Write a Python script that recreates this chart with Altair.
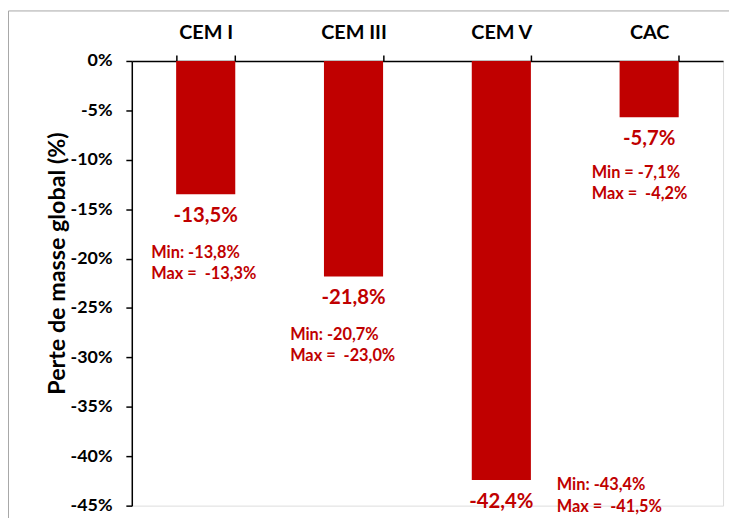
import altair as alt
import pandas as pd

# ---- data ----
categories = ["CEM I", "CEM III", "CEM V", "CAC"]
values = [-13.5, -21.8, -42.4, -5.7]
min_values = [-13.8, -20.7, -43.4, -7.1]
max_values = [-13.3, -23.0, -41.5, -4.2]
min_sep = [":", ":", ":", " ="]
y_ticks = [0, -5, -10, -15, -20, -25, -30, -35, -40, -45]

# annotation anchor (data units) and horizontal pixel offsets
ann_y = [-18.6, -26.9, -42.1, -10.5]
ann_dx = [-55, -64, 56, -58]

RED = "#C00000"
FONT = "Lato"


def fr(v):
    return f"{v:.1f}%".replace(".", ",")


df = pd.DataFrame({
    "cat": categories,
    "value": values,
    "label": [fr(v) for v in values],
})

x_enc = alt.X("cat:N", sort=categories, title=None,
              scale=alt.Scale(paddingInner=0.6, paddingOuter=0.3),
              axis=alt.Axis(orient="top", labelAngle=0, tickBand="extent",
                            domainColor="black", domainWidth=1.5,
                            tickColor="black", tickWidth=1.5, tickSize=6,
                            labelFont=FONT, labelFontSize=20, labelFontWeight="bold",
                            labelColor="black", labelPadding=13))

y_scale = alt.Scale(domain=[-45, 0], nice=False)

base = alt.Chart(df)

bars = base.mark_bar(color=RED).encode(
    x=x_enc,
    y=alt.Y("value:Q", scale=y_scale, title="Perte de masse global (%)",
            axis=alt.Axis(values=y_ticks, labelExpr="datum.value + '%'",
                          grid=False, domainColor="black", domainWidth=1.5,
                          tickColor="black", tickWidth=1.5, tickSize=6,
                          labelFont=FONT, labelFontSize=18, labelFontWeight="bold",
                          labelColor="black", labelPadding=14,
                          titleFont=FONT, titleFontSize=23.5, titleFontWeight="bold",
                          titleColor="black", titlePadding=1, titleY=204)),
)

value_labels = base.mark_text(color=RED, font=FONT, fontSize=20.5, fontWeight="bold",
                              baseline="top", dy=12).encode(
    x=alt.X("cat:N", sort=categories),
    y=alt.Y("value:Q", scale=y_scale),
    text="label:N",
)

layers = [bars, value_labels]
for i, c in enumerate(categories):
    adf = pd.DataFrame({
        "cat": [c],
        "ay": [ann_y[i]],
        "txt": [f"Min{min_sep[i]} {fr(min_values[i])}\nMax =\u00a0 {fr(max_values[i])}"],
    })
    layers.append(
        alt.Chart(adf).mark_text(color=RED, font=FONT, fontSize=16.5, fontWeight="bold",
                                 align="left", baseline="top", lineBreak="\n",
                                 lineHeight=22, dx=ann_dx[i]).encode(
            x=alt.X("cat:N", sort=categories),
            y=alt.Y("ay:Q", scale=y_scale),
            text="txt:N",
        )
    )

frame = pd.DataFrame({"a": [0]})
border_left = alt.Chart(frame).mark_rule(color="#A6A6A6", strokeWidth=1, clip=False).encode(
    x=alt.value(-124.5), y=alt.value(-50.5), y2=alt.value(470),
)
border_top = alt.Chart(frame).mark_rule(color="#A6A6A6", strokeWidth=1, clip=False).encode(
    x=alt.value(-124.5), x2=alt.value(604), y=alt.value(-50.5),
)

chart = alt.layer(border_left, border_top, *layers).properties(
    width=597, height=449,
    autosize=alt.AutoSizeParams(type="none"),
    padding={"left": 125, "top": 51, "right": 6, "bottom": 10},
).configure_view(stroke=None).configure(background="white")

chart.save("out.html", embed_options={"renderer": "svg", "actions": False})
